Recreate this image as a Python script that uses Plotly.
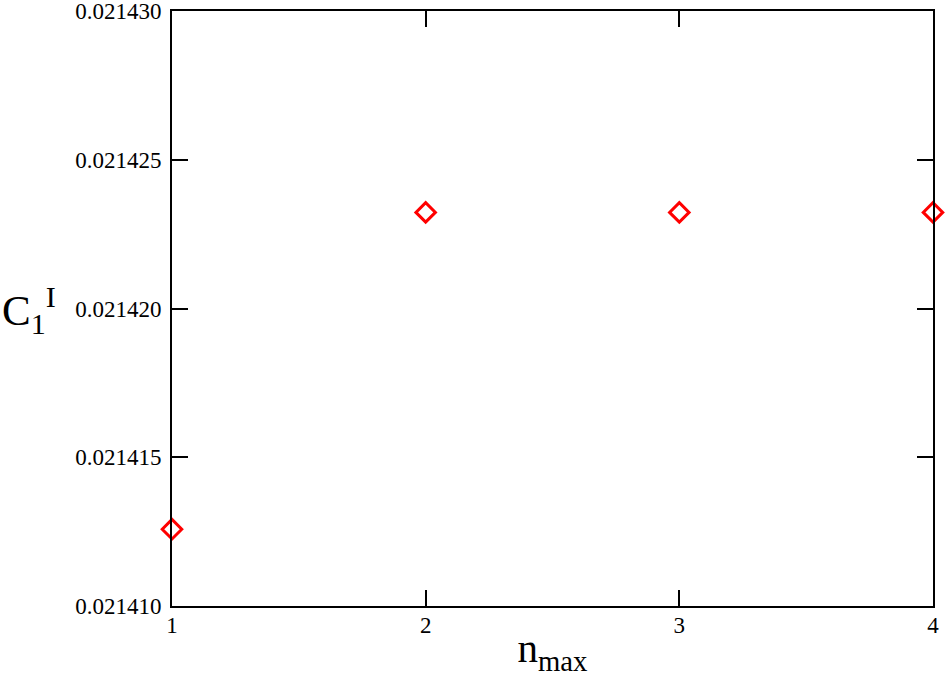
import plotly.graph_objects as go

# ===============================
# DATA
# ===============================
n_max = [1, 2, 3, 4]
c1_values = [0.02141258, 0.02142323, 0.02142323, 0.02142323]

x_ticks = [1, 2, 3, 4]
y_ticks = [0.021410, 0.021415, 0.021420, 0.021425, 0.021430]
y_tick_labels = ["0.021410", "0.021415", "0.021420", "0.021425", "0.021430"]

FONT = "Liberation Serif, Times New Roman, serif"

fig = go.Figure()

fig.add_trace(go.Scatter(
    x=n_max,
    y=c1_values,
    mode="markers",
    marker=dict(symbol="diamond-open", size=15, color="#ff0000",
                line=dict(color="#ff0000", width=3)),
    cliponaxis=False,
    showlegend=False
))

axis_common = dict(
    showline=True,
    linecolor="black",
    linewidth=2,
    mirror="ticks",
    ticks="inside",
    ticklen=16,
    tickwidth=1.5,
    tickcolor="black",
    showgrid=False,
    zeroline=False,
    automargin=False,
    ticklabeloverflow="allow",
    tickfont=dict(family=FONT, size=23, color="black"),
)

fig.update_xaxes(
    range=[1 - 1e-9, 4 + 1e-9],
    tickvals=x_ticks,
    ticktext=[str(v) for v in x_ticks],
    ticklabelstandoff=-3,
    title=dict(text="n<sub>max</sub>", font=dict(family=FONT, size=41, color="black"),
               standoff=5),
    **axis_common
)

# tiny padding so the end ticks are not dropped by float rounding
fig.update_yaxes(
    range=[0.021410 - 1e-13, 0.021430 + 1e-13],
    tickvals=y_ticks,
    ticktext=y_tick_labels,
    ticklabelstandoff=4,
    **axis_common
)

# horizontal y title
fig.add_annotation(
    text="C<sub>1</sub><sup>I</sup>",
    xref="paper", yref="paper",
    x=-0.226, y=0.497,
    xanchor="left", yanchor="middle",
    showarrow=False,
    font=dict(family=FONT, size=43, color="black")
)

fig.update_layout(
    width=946,
    height=677,
    margin=dict(l=172, r=13, t=11, b=71),
    plot_bgcolor="white",
    paper_bgcolor="white",
)

# page body has a default margin; drop it so the figure sits at the window corner
fig.write_html("out.html", config={"displayModeBar": False},
               post_script="document.body.style.margin='0';")
